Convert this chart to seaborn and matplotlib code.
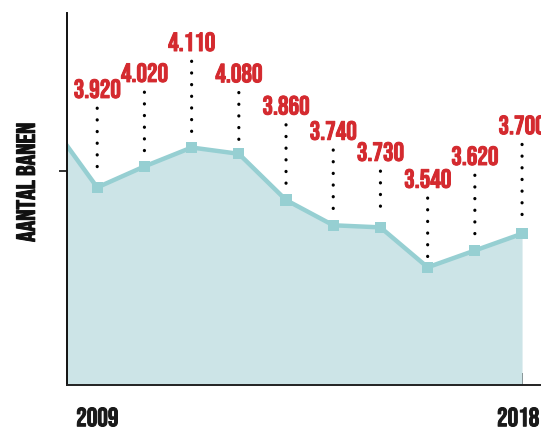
import numpy as np
import pandas as pd
import matplotlib
matplotlib.use("Agg")
import matplotlib.pyplot as plt
import matplotlib.patheffects as pe
import matplotlib.transforms as mtransforms
import seaborn as sns

# jaar en aantal banen (2008 alleen voor de lijn links van de as)
years = [2008, 2009, 2010, 2011, 2012, 2013, 2014, 2015, 2016, 2017, 2018]
banen = [4230, 3920, 4020, 4110, 4080, 3860, 3740, 3730, 3540, 3620, 3700]
labels = ["", "3.920", "4.020", "4.110", "4.080", "3.860", "3.740", "3.730",
          "3.540", "3.620", "3.700"]
tick_labels = {2009: "2009", 2018: "2018"}

# hoogte van de labels boven de punten (pixels), zoals in de ontwerp-versie
label_lift = [0, 99, 94, 106, 81, 95, 95, 76, 89, 95, 109]

RED = "#d42a2f"
LINE = "#96cfd2"
FILL = "#cce4e7"
FONT = ["Bebas Neue", "DejaVu Sans"]

sns.set_style("white")
plt.rcParams["font.family"] = FONT


def heavy(color):
    return [pe.withStroke(linewidth=0.7, foreground=color)]


df = pd.DataFrame({"jaar": years, "banen": banen})

fig = plt.figure(figsize=(5.41, 4.33), dpi=100)
ax = fig.add_axes([67 / 541, 48 / 433, 473 / 541, 372 / 433])

ymin = 2980
ax.fill_between(df["jaar"], df["banen"], ymin - 500, color=FILL, lw=0, zorder=1)
sns.lineplot(data=df, x="jaar", y="banen", ax=ax, color=LINE, lw=3.2, zorder=2)
sns.scatterplot(data=df[df["jaar"] >= 2009], x="jaar", y="banen", ax=ax,
                marker="s", s=65, color=LINE, edgecolor="none", zorder=3)

for yr, v, lab, lift in zip(years, banen, labels, label_lift):
    if not lab:
        continue
    ax.annotate(lab, xy=(yr, v), xytext=(0, lift * 0.72),
                textcoords="offset points", ha="center", va="center",
                color=RED, fontsize=19, annotation_clip=False,
                path_effects=heavy(RED),
                arrowprops=dict(arrowstyle="-", color="black", lw=2.3,
                                ls=(0, (0.05, 3.6)), capstyle="round",
                                shrinkA=5, shrinkB=7))

ax.set_xlim(2008.36, 2018.38)
ax.set_ylim(ymin, 4750)

ax.set_xticks(years[1:])
ax.set_xticklabels([tick_labels.get(y, "") for y in years[1:]], fontsize=19)
ax.set_yticks([4000])
ax.set_yticklabels([])
ax.tick_params(axis="x", direction="in", length=9, width=1.3, color="#222222",
               pad=16, bottom=True)
ax.tick_params(axis="y", direction="out", length=6, width=1.3, color="#222222",
               left=True)
for t in ax.get_xticklabels():
    t.set_color("#1a1a1a")
    t.set_path_effects(heavy("#1a1a1a"))
# laatste jaartal iets naar links, zodat het binnen de rand valt
last = ax.get_xticklabels()[-1]
last.set_transform(last.get_transform()
                   + mtransforms.ScaledTranslation(-4 / 100, 0, fig.dpi_scale_trans))

ax.set_xlabel("")
ax.set_ylabel("AANTAL BANEN", fontsize=19, color="#111111",
              path_effects=heavy("#111111"))
ax.yaxis.set_label_coords(-0.068, 0.546)

for side in ["top", "right"]:
    ax.spines[side].set_visible(False)
ax.spines["left"].set_color("#111111")
ax.spines["left"].set_linewidth(1.4)
ax.spines["bottom"].set_color("#222222")
ax.spines["bottom"].set_linewidth(1.4)

fig.savefig("out.png", dpi=100)
